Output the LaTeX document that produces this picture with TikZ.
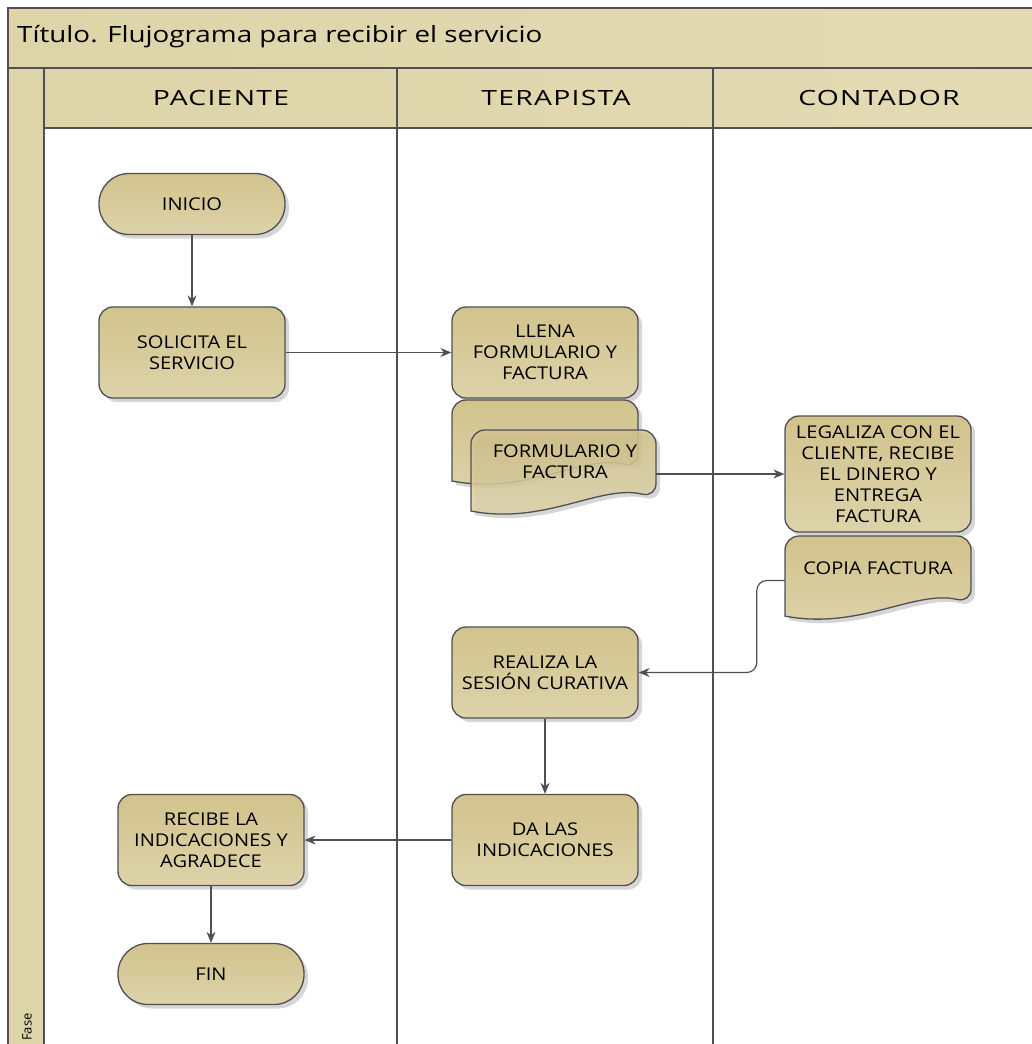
\documentclass[tikz,border=0pt]{standalone}
\usepackage{fontspec}
\setmainfont{Open Sans}
\newfontfamily\nodefam{Open Sans}[FakeStretch=1.14]
\newfontfamily\titlefam{Open Sans}[FakeStretch=1.24]
\newfontfamily\hdrfam{Open Sans}[FakeStretch=1.35,LetterSpace=6]
\usetikzlibrary{shadows,arrows.meta,calc}
\definecolor{edge}{HTML}{4F4F55}
\definecolor{conncol}{HTML}{4F4F58}
\definecolor{tanA}{HTML}{D2C38C}
\definecolor{tanB}{HTML}{DDD3AA}
\definecolor{band}{HTML}{DDD4A8}
\definecolor{bandB}{HTML}{E4DBB5}
\newcommand\nodefont{\nodefam\fontsize{17.6}{21}\selectfont}
\newcommand\docshape[5]{%
  \fill[black,opacity=0.16,shift={(4,4)}] (#1,{#4-0.1*(#4-#2)}) [rounded corners=14pt] -- (#1,#2) -- (#3,#2) -- (#3,{#4-0.25*(#4-#2)}) [sharp corners] .. controls ({#3-0.3*(#3-#1)},{#4-0.4*(#4-#2)}) and ({#1+0.4*(#3-#1)},{#4+0.06*(#4-#2)}) .. (#1,{#4-0.1*(#4-#2)}) -- cycle;
  \path[draw=edge,line width=1.3pt,top color=tanA,bottom color=tanB,#5] (#1,{#4-0.1*(#4-#2)}) [rounded corners=14pt] -- (#1,#2) -- (#3,#2) -- (#3,{#4-0.25*(#4-#2)}) [sharp corners] .. controls ({#3-0.3*(#3-#1)},{#4-0.4*(#4-#2)}) and ({#1+0.4*(#3-#1)},{#4+0.06*(#4-#2)}) .. (#1,{#4-0.1*(#4-#2)}) -- cycle;
}
\begin{document}
\begin{tikzpicture}[x=1pt,y=-1pt,
  lane/.style={draw=edge,line width=1.3pt},
  box/.style={draw=edge,line width=1.3pt,rounded corners=14pt,top color=tanA,bottom color=tanB,
    minimum width=186pt,minimum height=91pt,align=center,font=\nodefont,inner sep=1pt,
    drop shadow={shadow xshift=4pt,shadow yshift=-4pt,opacity=0.16,fill=black}},
  term/.style={box,rounded corners=30pt,minimum height=61pt},
  ghost/.style={inner sep=0pt,align=center,font=\nodefont},
  txt/.style={inner sep=0pt,align=center,font=\nodefont},
  hdr/.style={inner sep=0pt,font=\hdrfam\fontsize{21}{25}\selectfont},
  conn/.style={draw=conncol,line width=1.2pt,-{Stealth[length=11pt,width=9pt]}}]
\useasboundingbox (0,0) rectangle (1032,1044);
\fill[white] (0,0) rectangle (1032,1044);
% title band
\path[lane,left color=band,right color=bandB] (8,8) rectangle (1045,68);
\node[inner sep=0pt,anchor=west,font=\titlefam\fontsize{22.4}{26}\selectfont] (title) at (17,37) {Título. Flujograma para recibir el servicio};
% fase column
\path[lane,fill=band] (8,68) rectangle (44,1050);
\node[inner sep=0pt,rotate=90,font=\fontsize{13}{15}\selectfont] (fase) at (27,1027) {Fase};
% lane headers
\path[lane,left color=band,right color=bandB] (44,68) rectangle (1045,128);
\draw[lane] (397,68) -- (397,1050);
\draw[lane] (713,68) -- (713,1050);
\node[hdr] (h1) at (221,98) {PACIENTE};
\node[hdr] (h2) at (556,98) {TERAPISTA};
\node[hdr] (h3) at (879,98) {CONTADOR};
% nodes
\node[term] (inicio) at (192,204) {INICIO};
\node[box] (solicita) at (192,352.5) {SOLICITA EL\\SERVICIO};
\node[box] (llena) at (545,352.5) {LLENA\\FORMULARIO Y\\FACTURA};
\docshape{452}{400}{638}{490}{}
\docshape{471}{430}{656}{520}{fill opacity=0.85}
\node[ghost,minimum width=185pt,minimum height=90pt] (ff) at (563.5,475) {};
\node[txt] (fft) at (565,462) {FORMULARIO Y\\FACTURA};
\node[box,minimum height=116pt] (legaliza) at (878,474) {LEGALIZA CON EL\\CLIENTE, RECIBE\\EL DINERO Y\\ENTREGA\\FACTURA};
\docshape{785}{536}{971}{625}{}
\node[ghost,minimum width=186pt,minimum height=89pt] (copia) at (878,580.5) {};
\node[txt] (copiat) at (878,568) {COPIA FACTURA};
\node[box] (realiza) at (545,672.5) {REALIZA LA\\SESIÓN CURATIVA};
\node[box] (da) at (545,840) {DA LAS\\INDICACIONES};
\node[box] (recibe) at (211,840) {RECIBE LA\\INDICACIONES Y\\AGRADECE};
\node[term] (fin) at (211,974) {FIN};
% connectors
\draw[conn] (inicio) -- (solicita);
\draw[conn] (solicita) -- (llena);
\draw[conn] (ff.east |- legaliza.west) -- (legaliza.west);
\draw[conn,rounded corners=10pt] (copia.west) -- ++(-28,0) |- (realiza.east);
\draw[conn] (realiza) -- (da);
\draw[conn] (da) -- (recibe);
\draw[conn] (recibe) -- (fin);
\end{tikzpicture}
\end{document}
